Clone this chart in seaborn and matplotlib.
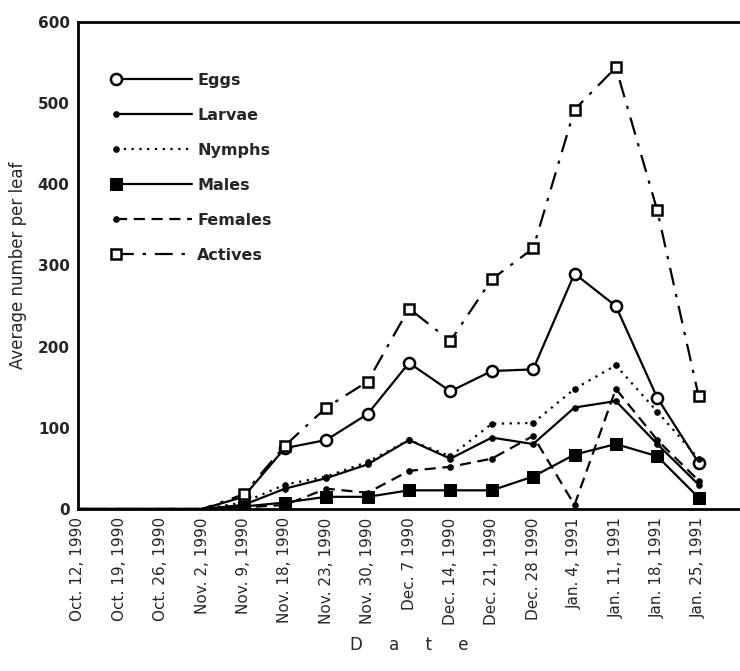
import numpy as np
import matplotlib
matplotlib.use("Agg")
import matplotlib.pyplot as plt
from matplotlib.legend_handler import HandlerLine2DCompound
import seaborn as sns

# Sampling dates (x axis)
dates = ["Oct. 12, 1990", "Oct. 19, 1990", "Oct. 26, 1990", "Nov. 2, 1990",
         "Nov. 9, 1990", "Nov. 18, 1990", "Nov. 23, 1990", "Nov. 30, 1990",
         "Dec. 7 1990", "Dec. 14, 1990", "Dec. 21, 1990", "Dec. 28 1990",
         "Jan. 4, 1991", "Jan. 11, 1991", "Jan. 18, 1991", "Jan. 25, 1991"]

# Average number per leaf
eggs    = [0, 0, 0, 0, 15, 75, 85, 117, 180, 145, 170, 172, 290, 250, 137, 57]
larvae  = [0, 0, 0, 0, 5, 25, 38, 55, 85, 62, 88, 80, 125, 133, 80, 30]
nymphs  = [0, 0, 0, 0, 8, 30, 40, 58, 85, 65, 105, 106, 148, 177, 120, 62]
males   = [0, 0, 0, 0, 3, 8, 15, 15, 23, 23, 23, 40, 67, 80, 65, 14]
females = [0, 0, 0, 0, 2, 5, 25, 20, 47, 52, 62, 90, 5, 148, 85, 35]
actives = [0, 0, 0, 0, 18, 78, 125, 157, 247, 207, 283, 321, 492, 544, 368, 139]


# legend handler: marker at the left end of the line, like the original
class LeftMarkerHandler(HandlerLine2DCompound):
    def get_xdata(self, legend, xdescent, ydescent, width, height, fontsize):
        xdata, _ = super().get_xdata(legend, xdescent, ydescent, width, height, fontsize)
        return xdata, np.array([xdata[0]])

    def create_artists(self, *args, **kwargs):
        arts = super().create_artists(*args, **kwargs)
        for a in arts:
            a.set_markevery(None)
        return arts


sns.set_style("white")
plt.rcParams['font.family'] = ['DejaVu Sans']

fig = plt.figure(figsize=(7.40, 6.71), dpi=100)
ax = fig.add_axes([78 / 740, 1 - 509 / 671, (740 - 78) / 740, (509 - 22) / 671])

x = np.arange(len(dates))
shown = list(range(4, len(dates)))  # no markers on the zero counts

series = [
    ("Eggs", eggs, dict(marker="o", markersize=8, markerfacecolor="white",
                        markeredgewidth=1.8, linestyle="-")),
    ("Larvae", larvae, dict(marker="o", markersize=4, markerfacecolor="black",
                            linestyle="-")),
    ("Nymphs", nymphs, dict(marker="o", markersize=4, markerfacecolor="black",
                            linestyle=(0, (1, 2.5)))),
    ("Males", males, dict(marker="s", markersize=8, markerfacecolor="black",
                          linestyle="-")),
    ("Females", females, dict(marker="o", markersize=4, markerfacecolor="black",
                              linestyle=(0, (5, 3)))),
    ("Actives", actives, dict(marker="s", markersize=7, markerfacecolor="white",
                              markeredgewidth=1.8, linestyle=(0, (8, 4, 1.5, 4)))),
]

for name, vals, style in series:
    sns.lineplot(x=x, y=vals, ax=ax, color="black", linewidth=1.6,
                 markeredgecolor="black", markevery=shown, label=name, **style)

ax.set_xlim(0, 16)
ax.set_ylim(0, 600)
ax.set_yticks([0, 100, 200, 300, 400, 500, 600])
ax.set_yticklabels(["0", "100", "200", "300", "400", "500", "600"],
                   fontsize=11, fontweight="bold")
ax.set_xticks(x)
ax.set_xticklabels(dates, rotation=90, fontsize=11)
ax.tick_params(direction="in", length=7, width=1.5, color="black", pad=6)

for side in ["left", "bottom", "top"]:
    ax.spines[side].set_linewidth(2)
    ax.spines[side].set_color("black")
ax.spines["right"].set_visible(False)

ax.set_ylabel("Average number per leaf", fontsize=12, labelpad=8)
ax.set_xlabel("D     a     t     e", fontsize=12, labelpad=8)

handles, labels = ax.get_legend_handles_labels()
leg = ax.legend(handles, labels, loc="upper left", bbox_to_anchor=(0.035, 0.925),
                frameon=False, handlelength=4.8, fontsize=11.5, labelspacing=1.25,
                handletextpad=0.3, numpoints=1,
                handler_map={h: LeftMarkerHandler() for h in handles})
for t in leg.get_texts():
    t.set_fontweight("bold")

fig.savefig("out.png", dpi=100)
